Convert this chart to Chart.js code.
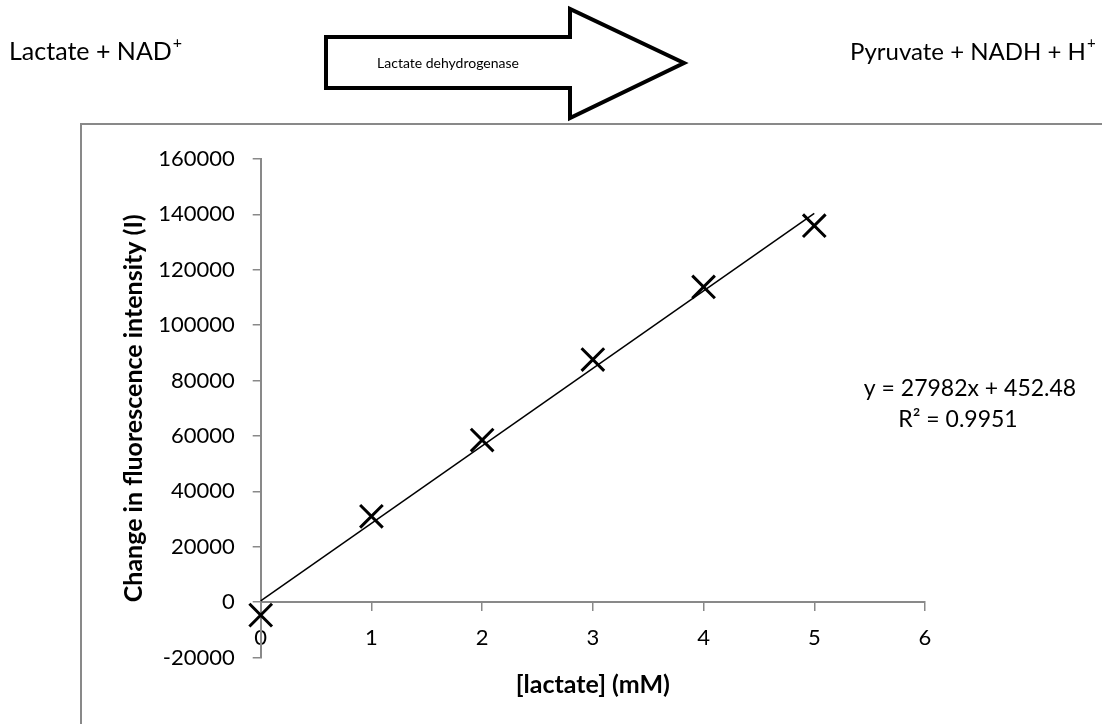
<!DOCTYPE html>
<html>
<head>
<meta charset="utf-8">
<title>Lactate dehydrogenase assay</title>
<script src="https://cdn.jsdelivr.net/npm/chart.js@4/dist/chart.umd.min.js"></script>
<style>
  html, body { margin: 0; padding: 0; background: #fff; }
  #wrap { position: relative; width: 1102px; height: 724px; }
  canvas { display: block; }
</style>
</head>
<body>
<div id="wrap"><canvas id="c" width="1102" height="724"></canvas></div>
<script>
// Lactate standard series: concentration (mM) and change in fluorescence
const concentrations = [0, 1, 2, 3, 4, 5];
const intensityChange = [-4700, 31000, 58500, 87600, 113800, 135900];

// Axis ticks
const xTicks = [0, 1, 2, 3, 4, 5, 6];
const yTicks = [-20000, 0, 20000, 40000, 60000, 80000, 100000, 120000, 140000, 160000];

// Linear fit as reported on the plot
const fitSlope = 27982;
const fitIntercept = 452.48;
const fitR2 = 0.9951;

const FONT = 'Lato, "Open Sans", sans-serif';
const AXIS_GREY = '#898989';

// Fit line end points from the reported equation, over the measured range
const fitStart = concentrations[0];
const fitEnd = concentrations[concentrations.length - 1];
const fitPoints = [
  { x: fitStart, y: fitSlope * fitStart + fitIntercept },
  { x: fitEnd, y: fitSlope * fitEnd + fitIntercept }
];

function drawWithSup(ctx, base, sup, x, y, size) {
  ctx.font = size + 'px ' + FONT;
  ctx.textAlign = 'left';
  ctx.fillText(base, x, y);
  const w = ctx.measureText(base).width;
  ctx.font = Math.round(size * 0.62) + 'px ' + FONT;
  ctx.fillText(sup, x + w + 1, y - size * 0.36);
}

// Reaction scheme above the plot and the outer frame
const headerPlugin = {
  id: 'reactionHeader',
  beforeDraw(chart) {
    const ctx = chart.ctx;
    ctx.save();
    ctx.fillStyle = '#fff';
    ctx.fillRect(0, 0, chart.width, chart.height);

    // outer frame (left and top edges)
    ctx.strokeStyle = AXIS_GREY;
    ctx.lineWidth = 2;
    ctx.beginPath();
    ctx.moveTo(81, chart.height + 5);
    ctx.lineTo(81, 124);
    ctx.lineTo(chart.width + 5, 124);
    ctx.stroke();

    // block arrow
    ctx.beginPath();
    ctx.moveTo(326, 37);
    ctx.lineTo(570, 37);
    ctx.lineTo(570, 9);
    ctx.lineTo(684, 63);
    ctx.lineTo(570, 118);
    ctx.lineTo(570, 88);
    ctx.lineTo(326, 88);
    ctx.closePath();
    ctx.fillStyle = '#fff';
    ctx.fill();
    ctx.strokeStyle = '#000';
    ctx.lineWidth = 4;
    ctx.lineJoin = 'miter';
    ctx.stroke();

    ctx.fillStyle = '#000';
    ctx.textBaseline = 'middle';
    ctx.font = '14px ' + FONT;
    ctx.textAlign = 'center';
    ctx.fillText('Lactate dehydrogenase', 448, 63);

    drawWithSup(ctx, 'Lactate + NAD', '+', 9, 52, 25);
    drawWithSup(ctx, 'Pyruvate + NADH + H', '+', 850, 52, 24);
    ctx.restore();
  },
  afterDraw(chart) {
    const ctx = chart.ctx;
    ctx.save();
    ctx.fillStyle = '#000';
    ctx.textBaseline = 'middle';
    ctx.textAlign = 'center';
    ctx.font = '23px ' + FONT;
    ctx.fillText('y = ' + fitSlope + 'x + ' + fitIntercept, 970, 389);
    ctx.fillText('R\u00B2 = ' + fitR2, 958, 420);
    ctx.restore();
  }
};

new Chart(document.getElementById('c').getContext('2d'), {
  type: 'scatter',
  data: {
    datasets: [
      {
        label: 'Measured',
        data: concentrations.map((x, i) => ({ x: x, y: intensityChange[i] })),
        pointStyle: 'crossRot',
        pointRadius: 16,
        pointHoverRadius: 16,
        pointBorderWidth: 3,
        borderColor: '#000',
        backgroundColor: '#000',
        clip: false,
        order: 1
      },
      {
        label: 'Linear fit',
        data: fitPoints,
        showLine: true,
        pointRadius: 0,
        borderColor: '#000',
        borderWidth: 1.5,
        fill: false,
        clip: false,
        order: 2
      }
    ]
  },
  options: {
    responsive: false,
    animation: false,
    devicePixelRatio: 1,
    events: [],
    layout: { padding: { left: 115, top: 159, right: 177, bottom: 66.5 } },
    plugins: { legend: { display: false }, tooltip: { enabled: false } },
    scales: {
      x: {
        type: 'linear',
        position: { y: 0 },
        min: xTicks[0],
        max: xTicks[xTicks.length - 1],
        ticks: {
          stepSize: xTicks[1] - xTicks[0],
          color: '#000',
          font: { family: FONT, size: 22 },
          padding: 15
        },
        grid: { drawOnChartArea: false, drawTicks: true, tickLength: 8, color: AXIS_GREY, lineWidth: 1.5 },
        border: { color: AXIS_GREY, width: 2 },
        title: {
          display: true,
          text: '[lactate] (mM)',
          color: '#000',
          font: { family: FONT, size: 25, weight: 'bold' },
          padding: { top: 0, bottom: -31.5 }
        },
        afterFit(scale) { scale.height = 66.5; }
      },
      y: {
        type: 'linear',
        min: yTicks[0],
        max: yTicks[yTicks.length - 1],
        ticks: {
          stepSize: yTicks[1] - yTicks[0],
          color: '#000',
          font: { family: FONT, size: 22 },
          padding: 18,
          callback: (v) => String(v)
        },
        grid: { drawOnChartArea: false, drawTicks: true, tickLength: 8, color: AXIS_GREY, lineWidth: 1.5 },
        border: { color: AXIS_GREY, width: 2 },
        title: {
          display: true,
          text: 'Change in fluorescence intensity (I)',
          color: '#000',
          font: { family: FONT, size: 25, weight: 'bold' },
          padding: { top: 4, bottom: 0 }
        },
        afterFit(scale) { scale.width = 145.7; }
      }
    }
  },
  plugins: [headerPlugin]
});
</script>
</body>
</html>
